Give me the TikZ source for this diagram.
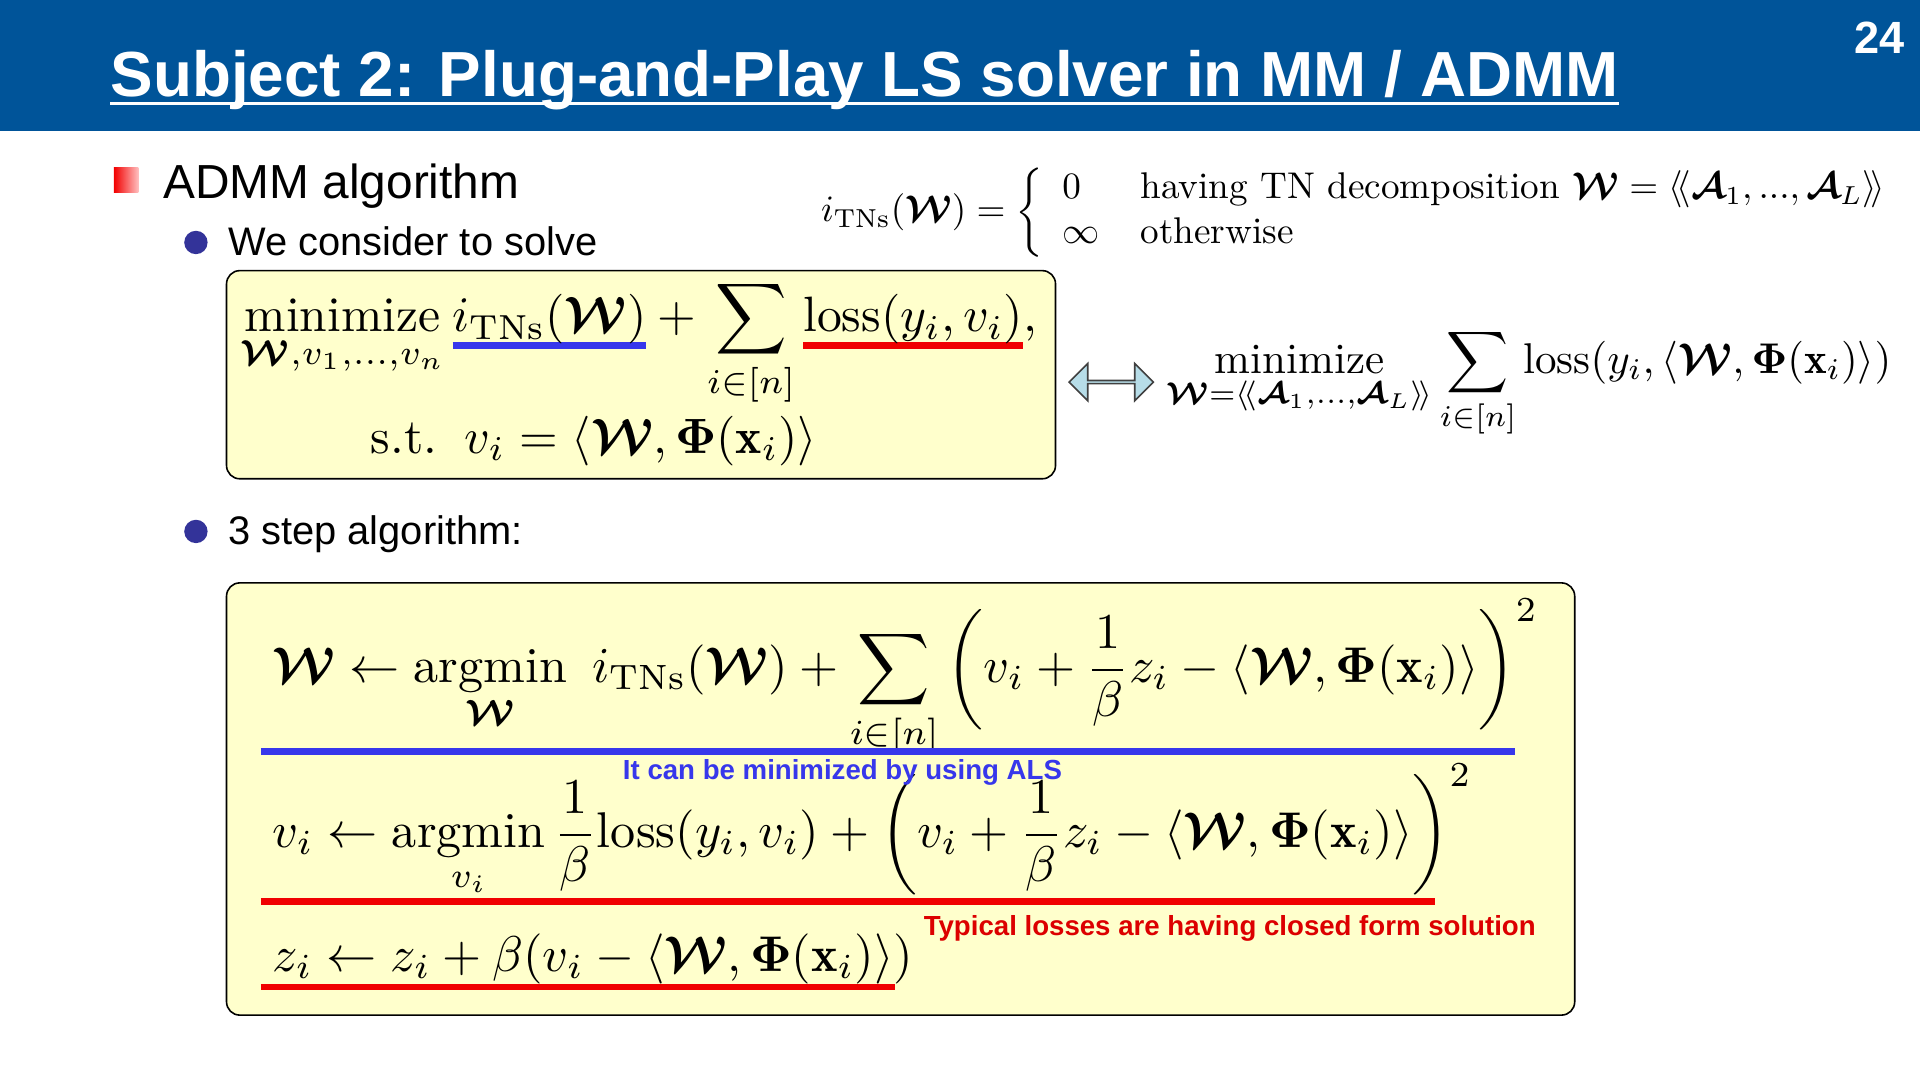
\documentclass[tikz,border=0pt]{standalone}
\usepackage{amsmath}
\usepackage{amssymb}
\usepackage{fontspec}
\newfontfamily\arial{Liberation Sans}
\usetikzlibrary{shapes.arrows}

\definecolor{headblue}{RGB}{0,84,153}
\definecolor{boxyellow}{RGB}{255,255,204}
\definecolor{dotblue}{RGB}{51,51,153}
\definecolor{lineblue}{RGB}{55,55,235}
\definecolor{linered}{RGB}{240,0,0}
\definecolor{notered}{RGB}{220,0,0}
\definecolor{arrowfill}{RGB}{183,221,232}

\newcommand{\cW}{\boldsymbol{\mathcal{W}}}
\newcommand{\cA}{\boldsymbol{\mathcal{A}}}
\newcommand{\bPhi}{\boldsymbol{\Phi}}
\newcommand{\bx}{\mathbf{x}}
\newcommand{\iTN}{i_{\mathrm{TNs}}}
\newcommand{\dlangle}{\langle\!\langle}
\newcommand{\drangle}{\rangle\!\rangle}
\newcommand{\markline}[2]{\setbox0\hbox{$\displaystyle #2$}\rlap{\color{#1}\rule[-3.5pt]{\wd0}{1.45pt}}\box0}

\begin{document}
\begin{tikzpicture}[x=0.0162cm, y=-0.0162cm,
		formula/.style={inner sep=0pt, anchor=base west},
		bigmath/.style={formula, scale=1.87},
		stepmath/.style={formula, scale=1.89},
		bullettext/.style={formula, font=\arial\fontsize{15}{18}\selectfont},
		mathbox/.style={draw=black, line width=0.6pt, fill=boxyellow, rounded corners=5pt},
		underbar/.style={line width=2.6pt},
		note/.style={inner sep=0pt, font=\arial\bfseries\fontsize{10.4}{12}\selectfont}]
		\useasboundingbox (0,0) rectangle (1568,882);
		\fill[white] (0,0) rectangle (1568,882);
		\fill[headblue] (0,0) rectangle (1568,107);
		\node[formula, text=white, font=\arial\bfseries\fontsize{24}{28}\selectfont] (title) at (90,79) {Subject 2: Plug-and-Play LS solver in MM / ADMM};
		\draw[white, line width=1.2pt] ([yshift=-2.4pt]title.base west) -- ([yshift=-2.4pt]title.base east);
		\node[inner sep=0pt, anchor=base east, text=white, font=\arial\bfseries\fontsize{17}{20}\selectfont] (pagenum) at (1556,44) {24};
		
		\shade[left color=red!95!black, right color=red!25] (93,137) rectangle (113,157);
		\node[formula, font=\arial\fontsize{18}{22}\selectfont] (admm) at (133,162) {ADMM algorithm};
		\fill[dotblue] (160,198) circle (4.4pt);
		\node[bullettext] (consider) at (186,209) {We consider to solve};
		\node[formula, scale=1.4] (tnsdef) at (670,181) {$\iTN(\cW) = \left\{\begin{array}{l@{\hspace{11pt}}l} 0 & \text{having TN decomposition } \cW = \dlangle \cA_1, ..., \cA_L \drangle \\ \infty & \text{otherwise} \end{array}\right.$};
		
		\draw[mathbox] (185,221) rectangle (862,391);
		\node[bigmath] (objline) at (196,271) {$\displaystyle \operatorname*{minimize}_{\cW, v_1,\ldots,v_n} \markline{lineblue}{\iTN(\cW)} + \sum_{i\in[n]} \markline{linered}{\mathrm{loss}(y_i, v_i)},$};
		\node[bigmath] (constr) at (302,370) {$\mathrm{s.t.}\;\; v_i = \langle \cW, \bPhi(\bx_i)\rangle$};
		\node[double arrow, draw=black!75, fill=arrowfill, line width=0.6pt, minimum height=31.7pt, minimum width=14pt, double arrow head extend=3.2pt, inner sep=0pt] (equiv) at (907.5,312) {};
		\node[formula, scale=1.62] (lsform) at (952,305) {$\displaystyle \operatorname*{minimize}_{\cW = \dlangle \cA_1,\ldots,\cA_L \drangle} \sum_{i\in[n]} \mathrm{loss}(y_i, \langle \cW, \bPhi(\bx_i)\rangle)$};
		
		\fill[dotblue] (160,434) circle (4.4pt);
		\node[bullettext] (threestep) at (186,445) {3 step algorithm:};
		
		\draw[mathbox] (185,476) rectangle (1286,829);
		\node[stepmath] (wstep) at (222,557) {$\displaystyle \cW \leftarrow \operatorname*{argmin}_{\cW}\ \iTN(\cW) + \sum_{i\in[n]} \left( v_i + \frac{1}{\beta} z_i - \langle \cW, \bPhi(\bx_i)\rangle \right)^2$};
		\node[stepmath] (vstep) at (222,692) {$\displaystyle v_i \leftarrow \operatorname*{argmin}_{v_i} \frac{1}{\beta}\mathrm{loss}(y_i, v_i) + \left( v_i + \frac{1}{\beta} z_i - \langle \cW, \bPhi(\bx_i)\rangle \right)^2$};
		\node[stepmath] (zstep) at (222,793) {$\displaystyle z_i \leftarrow z_i + \beta(v_i - \langle \cW, \bPhi(\bx_i)\rangle)$};
		\draw[lineblue, underbar] (213,614) -- (1237,614);
		\draw[linered, underbar] (213,736) -- (1172,736);
		\draw[linered, underbar] (213,806) -- (731,806);
		\node[note, text=lineblue] (alsnote) at (688,631) {It can be minimized by using ALS};
		\node[note, text=notered, anchor=west] (lossnote) at (754,758) {Typical losses are having closed form solution};
\end{tikzpicture}
\end{document}
